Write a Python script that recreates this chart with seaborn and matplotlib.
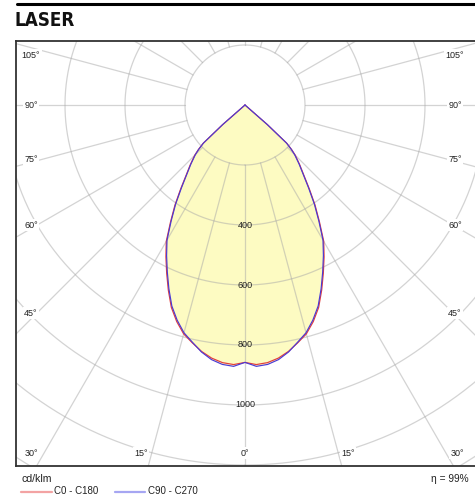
import numpy as np
import pandas as pd
import matplotlib
matplotlib.use("Agg")
import matplotlib.pyplot as plt
from matplotlib.lines import Line2D
import seaborn as sns

# ---------------- data (cd/klm, angle from nadir in degrees) ----------------
angles = [0, 2.5, 5, 7.5, 10, 12.5, 15, 17.5, 20, 22.5, 25, 27.5, 30, 32.5, 35,
          37.5, 40, 42.5, 45, 46.25, 47.5, 48.75, 50, 60, 90, 180]
c0_c180 = [858, 866, 862, 851, 834, 812, 790, 757, 718, 668, 618, 571, 525, 462, 407,
           352, 305, 270, 237, 216, 190, 100, 0, 0, 0, 0]
c90_c270 = [858, 872, 868, 856, 836, 810, 786, 752, 713, 663, 613, 566, 520, 458, 403,
            348, 302, 267, 234, 213, 187, 98, 0, 0, 0, 0]
series_names = ["C0 - C180", "C90 - C270"]
ring_values = [200, 400, 600, 800, 1000, 1200, 1400, 1600]
ring_labels = [400, 600, 800, 1000]
side_angle_labels = [105, 90, 75, 60, 45]
bottom_angle_labels = [30, 15, 0, 15, 30]
title = "LASER"
unit = "cd/klm"
efficiency = "η = 99%"

# ---------------- styling ----------------
sns.set_style("white")
plt.rcParams["font.family"] = ["Liberation Sans", "DejaVu Sans"]

W, H = 475, 499
fig = plt.figure(figsize=(W / 100, H / 100), dpi=100)

# axes frame in pixels
left_px, right_px, top_px, bot_px = 16, 476, 41, 466
cx_px, cy_px = 245, 105
scale = 0.3  # px per cd/klm
ax = fig.add_axes([left_px / W, 1 - bot_px / H, (right_px - left_px) / W, (bot_px - top_px) / H])
ax.set_xlim(-(cx_px - left_px) / scale, (right_px - cx_px) / scale)
ax.set_ylim(-(bot_px - cy_px) / scale, (cy_px - top_px) / scale)


def full_curve(ang, vals):
    a = np.r_[-np.array(ang[::-1], float), np.array(ang[1:], float)]
    v = np.r_[np.array(vals[::-1], float), np.array(vals[1:], float)]
    t = np.deg2rad(a)
    return v * np.sin(t), -v * np.cos(t)


frames = []
for name, vals in zip(series_names, [c0_c180, c90_c270]):
    x, y = full_curve(angles, vals)
    frames.append(pd.DataFrame({"x": x, "y": y, "series": name}))
df = pd.concat(frames, ignore_index=True)

fill_color = "#fdfbc2"
for name in series_names:
    sub = df[df.series == name]
    ax.fill(sub.x, sub.y, color=fill_color, lw=0, zorder=1)

# grid: rings and radial spokes
grid_kw = dict(color="#a8a8a8", lw=0.9, alpha=0.5, zorder=2)
tt = np.linspace(0, 2 * np.pi, 721)
for r in ring_values:
    ax.plot(r * np.sin(tt), -r * np.cos(tt), **grid_kw)
for a in range(0, 360, 15):
    t = np.deg2rad(a)
    ax.plot([200 * np.sin(t), 2200 * np.sin(t)], [-200 * np.cos(t), -2200 * np.cos(t)], **grid_kw)

palette = {"C0 - C180": "#e23c3c", "C90 - C270": "#4a3ad6"}
sns.lineplot(data=df, x="x", y="y", hue="series", palette=palette, sort=False,
             estimator=None, units="series", legend=False, lw=0.85, ax=ax, zorder=3)

for v in ring_labels:
    ax.text(0, -v, str(v), ha="center", va="center", fontsize=6.5, color="#222222", zorder=4)

ax.set_xlabel("")
ax.set_ylabel("")
ax.set_xticks([])
ax.set_yticks([])
for s in ["top", "bottom", "left"]:
    ax.spines[s].set_color("#333333")
    ax.spines[s].set_linewidth(1.3)
ax.spines["right"].set_visible(False)

# angle labels
lab_kw = dict(fontsize=6.5, color="#222222", ha="center", va="center",
              bbox=dict(fc="white", ec="none", pad=1.0))
side_y = [55, 105, 160, 225, 313]
for a, yp in zip(side_angle_labels, side_y):
    fig.text(31 / W, 1 - yp / H, f"{a}°", **lab_kw)
    fig.text(455 / W, 1 - yp / H, f"{a}°", **lab_kw)
bottom_x = [31, 141, 245, 348, 457]
for a, xp in zip(bottom_angle_labels, bottom_x):
    fig.text(xp / W, 1 - 453 / H, f"{a}°", **lab_kw)

# title and top rule
fig.add_artist(Line2D([17 / W, 1.0], [1 - 4 / H, 1 - 4 / H], color="black", lw=2.2))
fig.text(15 / W, 1 - 20.5 / H, title, fontsize=13.5, fontweight="bold", fontstretch="condensed",
         family=["DejaVu Sans"], ha="left", va="center", color="#111111")

# footer
fig.text(22 / W, 1 - 479 / H, unit, fontsize=7.6, ha="left", va="center", color="#222222")
fig.text(469 / W, 1 - 479 / H, efficiency, fontsize=7.3, ha="right", va="center", color="#222222")
leg_y = 1 - 491.5 / H
fig.add_artist(Line2D([21 / W, 52 / W], [leg_y, leg_y], color="#f3a3a3", lw=1.6))
fig.text(54 / W, leg_y, series_names[0], fontsize=7.0, ha="left", va="center", color="#222222")
fig.add_artist(Line2D([115 / W, 145 / W], [leg_y, leg_y], color="#a6a6f2", lw=1.6))
fig.text(148 / W, leg_y, series_names[1], fontsize=7.0, ha="left", va="center", color="#222222")

fig.savefig("out.png", dpi=100, facecolor="white")
